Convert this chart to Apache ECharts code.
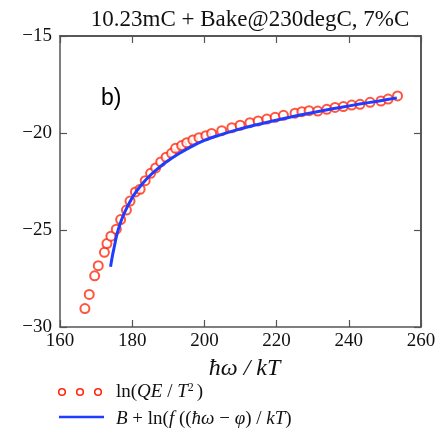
<!DOCTYPE html>
<html>
<head>
<meta charset="utf-8">
<script src="https://cdn.jsdelivr.net/npm/echarts@6/dist/echarts.min.js"></script>
<style>html,body{margin:0;padding:0;background:#fff}#c{width:443px;height:433px}</style>
</head>
<body>
<div id="c"></div>
<script>
const titleText = '10.23mC + Bake@230degC, 7%C';
const xTicks = [160, 180, 200, 220, 240, 260];
const yTicks = [-30, -25, -20, -15];
const dataX = [166.9,168.1,169.6,170.6,172.3,173.0,174.1,175.6,176.8,178.4,179.4,180.9,182.2,183.6,185.1,186.5,187.9,189.4,190.9,192.0,193.7,195.1,196.8,198.5,200.4,202.0,204.8,207.6,209.9,212.6,214.9,217.3,219.6,221.9,225.1,227.0,229.0,231.4,233.9,236.2,238.5,240.8,243.1,245.9,248.9,250.9,253.5];
const dataY = [-29.05,-28.32,-27.36,-26.84,-26.15,-25.70,-25.32,-24.96,-24.46,-23.97,-23.51,-23.04,-22.90,-22.46,-22.08,-21.80,-21.49,-21.25,-21.05,-20.79,-20.65,-20.50,-20.36,-20.24,-20.14,-20.02,-19.88,-19.73,-19.60,-19.47,-19.38,-19.28,-19.19,-19.09,-18.98,-18.90,-18.85,-18.87,-18.78,-18.68,-18.64,-18.56,-18.52,-18.42,-18.35,-18.25,-18.09];
const fitX = [174.0,174.5,175.0,175.8,176.9,178.0,179.5,181.0,183.0,185.0,187.5,190.0,193.0,196.0,200.0,204.0,208.0,213.0,218.0,223.0,228.0,233.0,238.0,243.0,248.0,253.3];
const fitY = [-26.89,-26.35,-25.9,-25.2,-24.55,-24.05,-23.5,-23.05,-22.58,-22.18,-21.77,-21.42,-21.06,-20.74,-20.38,-20.12,-19.89,-19.64,-19.42,-19.21,-19.02,-18.84,-18.67,-18.51,-18.36,-18.19];

const serif = 'Liberation Serif';
const axisCol = '#555';
const red = '#ff2a10';
const blue = '#1f3cff';

const chart = echarts.init(document.getElementById('c'), null, {renderer: 'canvas'});
const fmtY = v => (v < 0 ? '\u2212' + Math.abs(v) : String(v));
const tickCommon = {show: true, inside: true, length: 7, lineStyle: {color: axisCol, width: 1.2}};

chart.setOption({
  animation: false,
  backgroundColor: '#fff',
  title: {
    text: titleText, left: 245, top: 3, textAlign: 'center',
    textStyle: {fontFamily: serif, fontSize: 23, fontWeight: 'normal', color: '#111'}
  },
  grid: {left: 60, right: 22, top: 36, bottom: 106},
  xAxis: [
    {type: 'value', min: xTicks[0], max: xTicks[xTicks.length - 1], interval: 20, position: 'bottom',
     axisLine: {show: true, onZero: false, lineStyle: {color: axisCol, width: 1.5}},
     axisTick: tickCommon, splitLine: {show: false},
     axisLabel: {fontFamily: serif, fontSize: 19, color: '#111', margin: 5},
     name: 'ħω / kT', nameLocation: 'middle', nameGap: 30,
     nameTextStyle: {fontFamily: serif, fontSize: 24, fontStyle: 'italic', color: '#111', padding: [0, 0, 0, 8]}},
    {type: 'value', min: xTicks[0], max: xTicks[xTicks.length - 1], interval: 20, position: 'top',
     axisLine: {show: true, onZero: false, lineStyle: {color: '#222', width: 1.5}},
     axisTick: tickCommon, splitLine: {show: false}, axisLabel: {show: false}}
  ],
  yAxis: [
    {type: 'value', min: yTicks[0], max: yTicks[yTicks.length - 1], interval: 5, position: 'left',
     axisLine: {show: true, onZero: false, lineStyle: {color: axisCol, width: 1.5}},
     axisTick: tickCommon, splitLine: {show: false},
     axisLabel: {fontFamily: serif, fontSize: 19, color: '#111', margin: 8, formatter: fmtY}},
    {type: 'value', min: yTicks[0], max: yTicks[yTicks.length - 1], interval: 5, position: 'right',
     axisLine: {show: true, onZero: false, lineStyle: {color: '#222', width: 1.5}},
     axisTick: tickCommon, splitLine: {show: false}, axisLabel: {show: false}}
  ],
  series: [
    {type: 'scatter', name: 'ln(QE/T^2)', data: dataX.map((x, i) => [x, dataY[i]]),
     symbol: 'emptyCircle', symbolSize: 9,
     itemStyle: {color: red, borderColor: red, borderWidth: 1.8}, z: 3},
    {type: 'line', name: 'fit', data: fitX.map((x, i) => [x, fitY[i]]),
     smooth: 0.3, showSymbol: false, symbol: 'none',
     lineStyle: {color: blue, width: 3}, z: 4}
  ],
  graphic: [
    {type: 'text', left: 101, top: 87, style: {text: 'b)', fontFamily: 'Liberation Sans', fontSize: 23, fill: '#000'}},
    {type: 'circle', shape: {cx: 62, cy: 392, r: 3.3}, style: {fill: 'none', stroke: red, lineWidth: 1.6}},
    {type: 'circle', shape: {cx: 80, cy: 392, r: 3.3}, style: {fill: 'none', stroke: red, lineWidth: 1.6}},
    {type: 'circle', shape: {cx: 98, cy: 392, r: 3.3}, style: {fill: 'none', stroke: red, lineWidth: 1.6}},
    {type: 'text', x: 116, y: 392, style: {
      text: '{n|ln(}{i|QE}{n| / }{i|T}{s|2}{n|)}', verticalAlign: 'middle',
      rich: {n: {fontFamily: serif, fontSize: 19, fill: '#111'},
             i: {fontFamily: serif, fontSize: 19, fontStyle: 'italic', fill: '#111'},
             s: {fontFamily: serif, fontSize: 12, fill: '#111', verticalAlign: 'top', padding: [0, 3, 9, 0]}}}},
    {type: 'line', shape: {x1: 59, y1: 417, x2: 104, y2: 417}, style: {stroke: blue, lineWidth: 2.5}},
    {type: 'text', x: 116, y: 419, style: {
      text: '{i|B}{n| + ln(}{i|f}{n| ((}{i|ħω}{n| − }{i|φ}{n|) / }{i|kT}{n|)}', verticalAlign: 'middle',
      rich: {n: {fontFamily: serif, fontSize: 19, fill: '#111'},
             i: {fontFamily: serif, fontSize: 19, fontStyle: 'italic', fill: '#111'}}}}
  ]
});
</script>
</body>
</html>
